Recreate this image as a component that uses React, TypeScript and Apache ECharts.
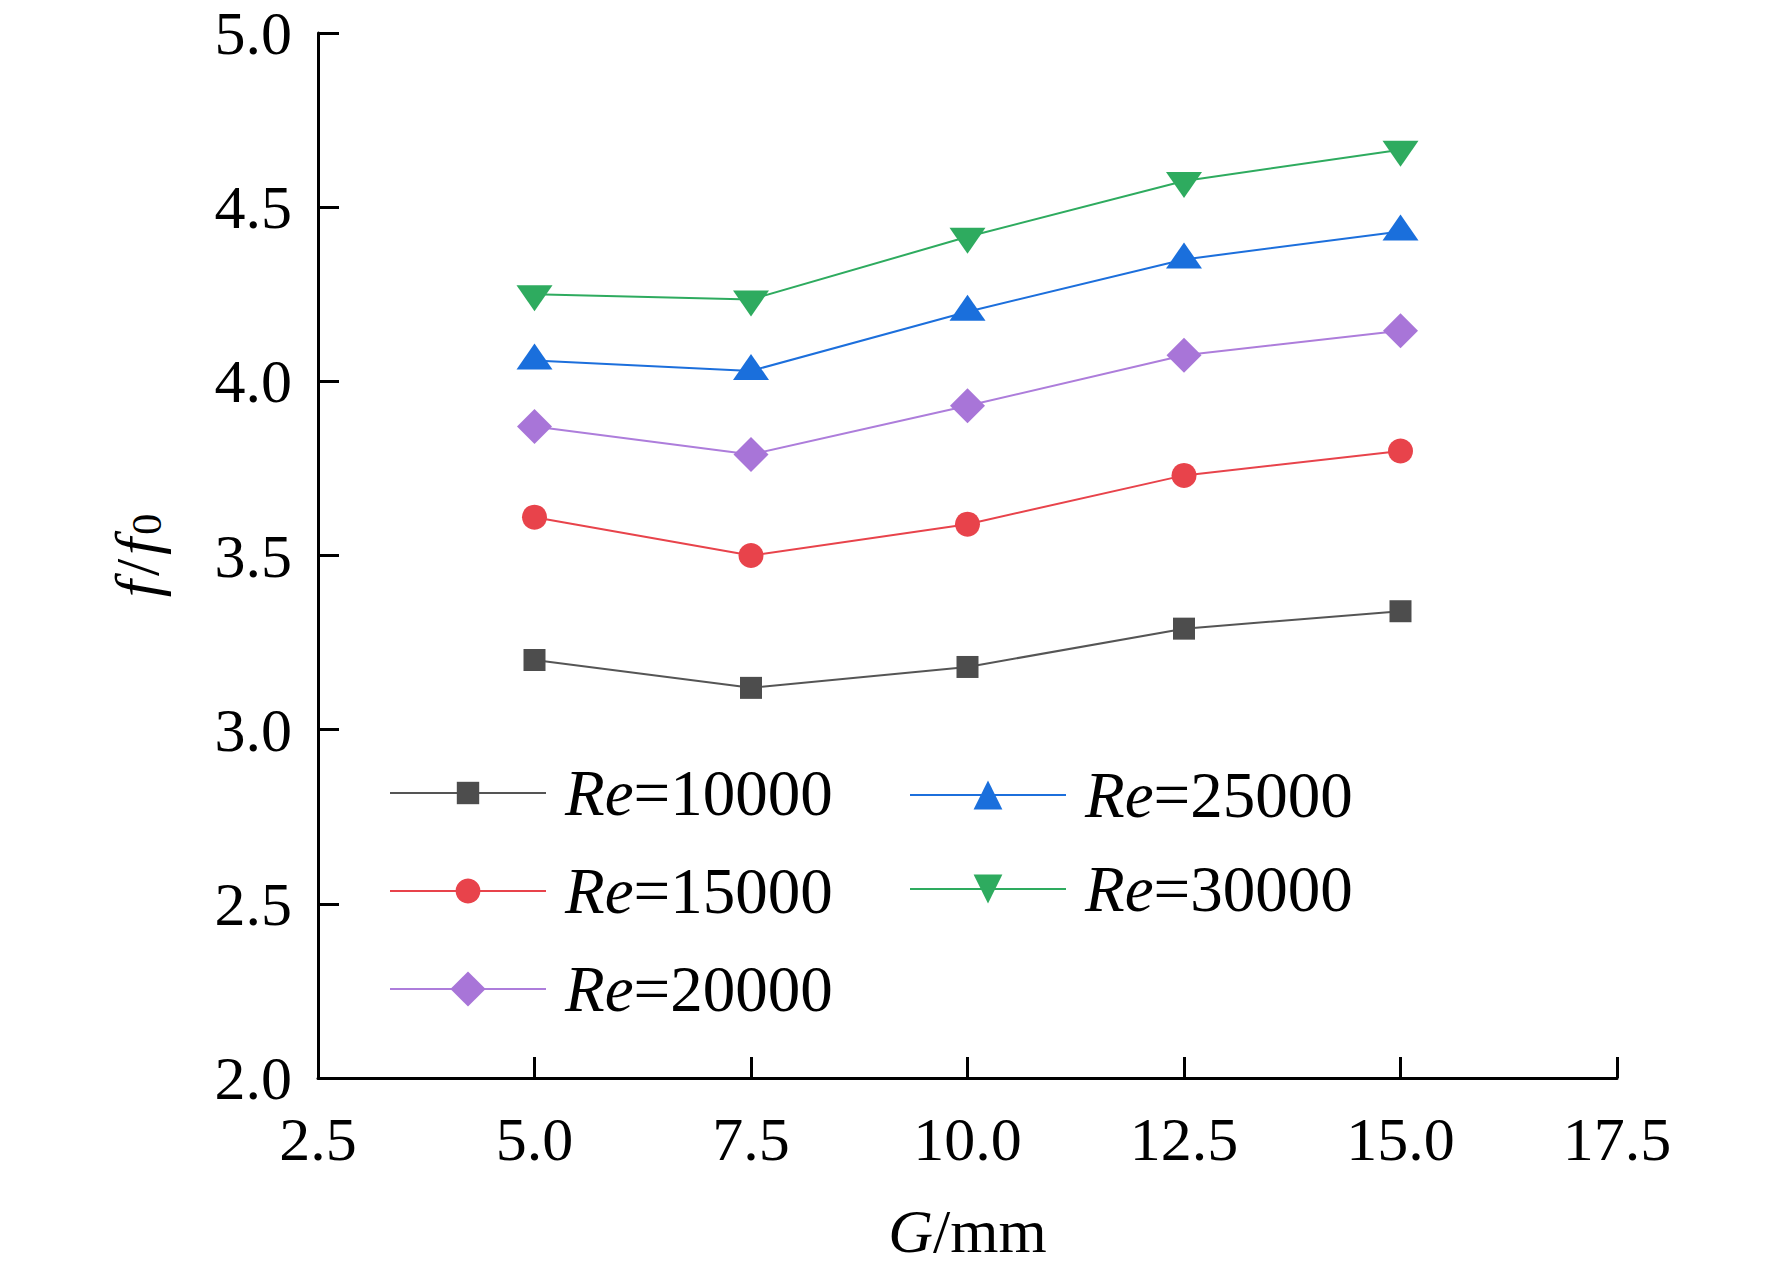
import { useEffect, useRef } from 'react';
import * as echarts from 'echarts';

const gapMm = [5, 7.5, 10, 12.5, 15];
const re10000 = [3.2, 3.12, 3.18, 3.29, 3.34];
const re15000 = [3.61, 3.5, 3.59, 3.73, 3.8];
const re20000 = [3.87, 3.79, 3.93, 4.075, 4.145];
const re25000 = [4.06, 4.03, 4.2, 4.35, 4.43];
const re30000 = [4.25, 4.235, 4.415, 4.575, 4.665];

const seriesNames = ['Re=10000', 'Re=15000', 'Re=20000', 'Re=25000', 'Re=30000'];
const seriesData = [re10000, re15000, re20000, re25000, re30000];

const FONT = 'Liberation Serif';

export default function App() {
  const chartRef = useRef<HTMLDivElement>(null);

  useEffect(() => {
    document.body.style.margin = '0';
    if (!chartRef.current) return;
    const chart = echarts.init(chartRef.current, null, { renderer: 'svg' });

    const styles = [
      { line: '#555555', fill: '#4d4d4d', symbol: 'rect', size: 22, rotate: 0, offset: [0, 0] },
      { line: '#e8434b', fill: '#e8434b', symbol: 'circle', size: 25, rotate: 0, offset: [0, 0] },
      { line: '#ad7ddb', fill: '#a875d8', symbol: 'diamond', size: 35, rotate: 0, offset: [0, 0] },
      { line: '#1c6fdc', fill: '#1a6fdc', symbol: 'triangle', size: [36, 26], rotate: 0, offset: [0, -4] },
      { line: '#2eab5f', fill: '#2eab5f', symbol: 'triangle', size: [36, 26], rotate: 180, offset: [0, 4] },
    ];

    const series = seriesNames.map((name, i) => ({
      name,
      type: 'line',
      data: gapMm.map((g, j) => [g, seriesData[i][j]]),
      symbol: styles[i].symbol,
      symbolSize: styles[i].size,
      symbolRotate: styles[i].rotate,
      symbolOffset: styles[i].offset,
      lineStyle: { color: styles[i].line, width: 2 },
      itemStyle: { color: styles[i].fill },
      z: 3 + i,
    }));

    // one legend per entry so each icon can get its own size
    const legendPos = [
      { left: 389, center: 793, h: 28 },
      { left: 389, center: 891, h: 31 },
      { left: 389, center: 989, h: 44 },
      { left: 909, center: 795, h: 36 },
      { left: 909, center: 889, h: 36 },
    ];
    const legends = seriesNames.map((name, i) => ({
      data: [name],
      left: legendPos[i].left,
      top: legendPos[i].center - 33,
      padding: 0,
      itemWidth: 156,
      itemHeight: legendPos[i].h,
      selectedMode: false,
      formatter: (n: string) => `{i|Re}{n|${n.slice(2)}}`,
      textStyle: {
        fontFamily: FONT,
        fontSize: 65,
        lineHeight: 66,
        color: '#000',
        rich: {
          i: { fontFamily: FONT, fontSize: 65, lineHeight: 66, fontStyle: 'italic', color: '#000', padding: [0, 0, 0, 14] },
          n: { fontFamily: FONT, fontSize: 65, lineHeight: 66, color: '#000' },
        },
      },
    }));

    const option = {
      animation: false,
      backgroundColor: '#fff',
      grid: { left: 318, right: 155, top: 33, bottom: 194, containLabel: false },
      legend: legends,
      xAxis: {
        type: 'value',
        min: 2.5,
        max: 17.5,
        interval: 2.5,
        name: '{i|G}{n|/mm}',
        nameLocation: 'middle',
        nameGap: 122,
        nameTextStyle: {
          rich: {
            i: { fontFamily: FONT, fontSize: 62, fontStyle: 'italic', color: '#000', lineHeight: 62 },
            n: { fontFamily: FONT, fontSize: 62, color: '#000', lineHeight: 62 },
          },
        },
        axisLine: { show: true, lineStyle: { color: '#000', width: 3 } },
        axisTick: { show: true, inside: true, length: 21, lineStyle: { color: '#000', width: 3 } },
        axisLabel: {
          fontFamily: FONT,
          fontSize: 62,
          color: '#000',
          margin: 30,
          formatter: (v: number) => v.toFixed(1),
        },
        splitLine: { show: false },
      },
      yAxis: {
        type: 'value',
        min: 2,
        max: 5,
        interval: 0.5,
        name: '{i|f}{n|/}{i|f}{s|0}',
        nameLocation: 'middle',
        nameGap: 150,
        nameRotate: 90,
        nameTextStyle: {
          rich: {
            i: { fontFamily: FONT, fontSize: 62, fontStyle: 'italic', color: '#000', lineHeight: 62, verticalAlign: 'bottom' },
            n: { fontFamily: FONT, fontSize: 62, color: '#000', lineHeight: 62, verticalAlign: 'bottom', padding: [0, 4, 0, 4] },
            s: { fontFamily: FONT, fontSize: 42, color: '#000', lineHeight: 36, verticalAlign: 'bottom', padding: [0, 0, 0, 3] },
          },
        },
        axisLine: { show: true, lineStyle: { color: '#000', width: 3 } },
        axisTick: { show: true, inside: true, length: 21, lineStyle: { color: '#000', width: 3 } },
        axisLabel: {
          fontFamily: FONT,
          fontSize: 62,
          color: '#000',
          margin: 26,
          formatter: (v: number) => v.toFixed(1),
        },
        splitLine: { show: false },
      },
      series,
    };

    chart.setOption(option);
    return () => chart.dispose();
  }, []);

  return <div ref={chartRef} style={{ width: 1772, height: 1272 }} />;
}
